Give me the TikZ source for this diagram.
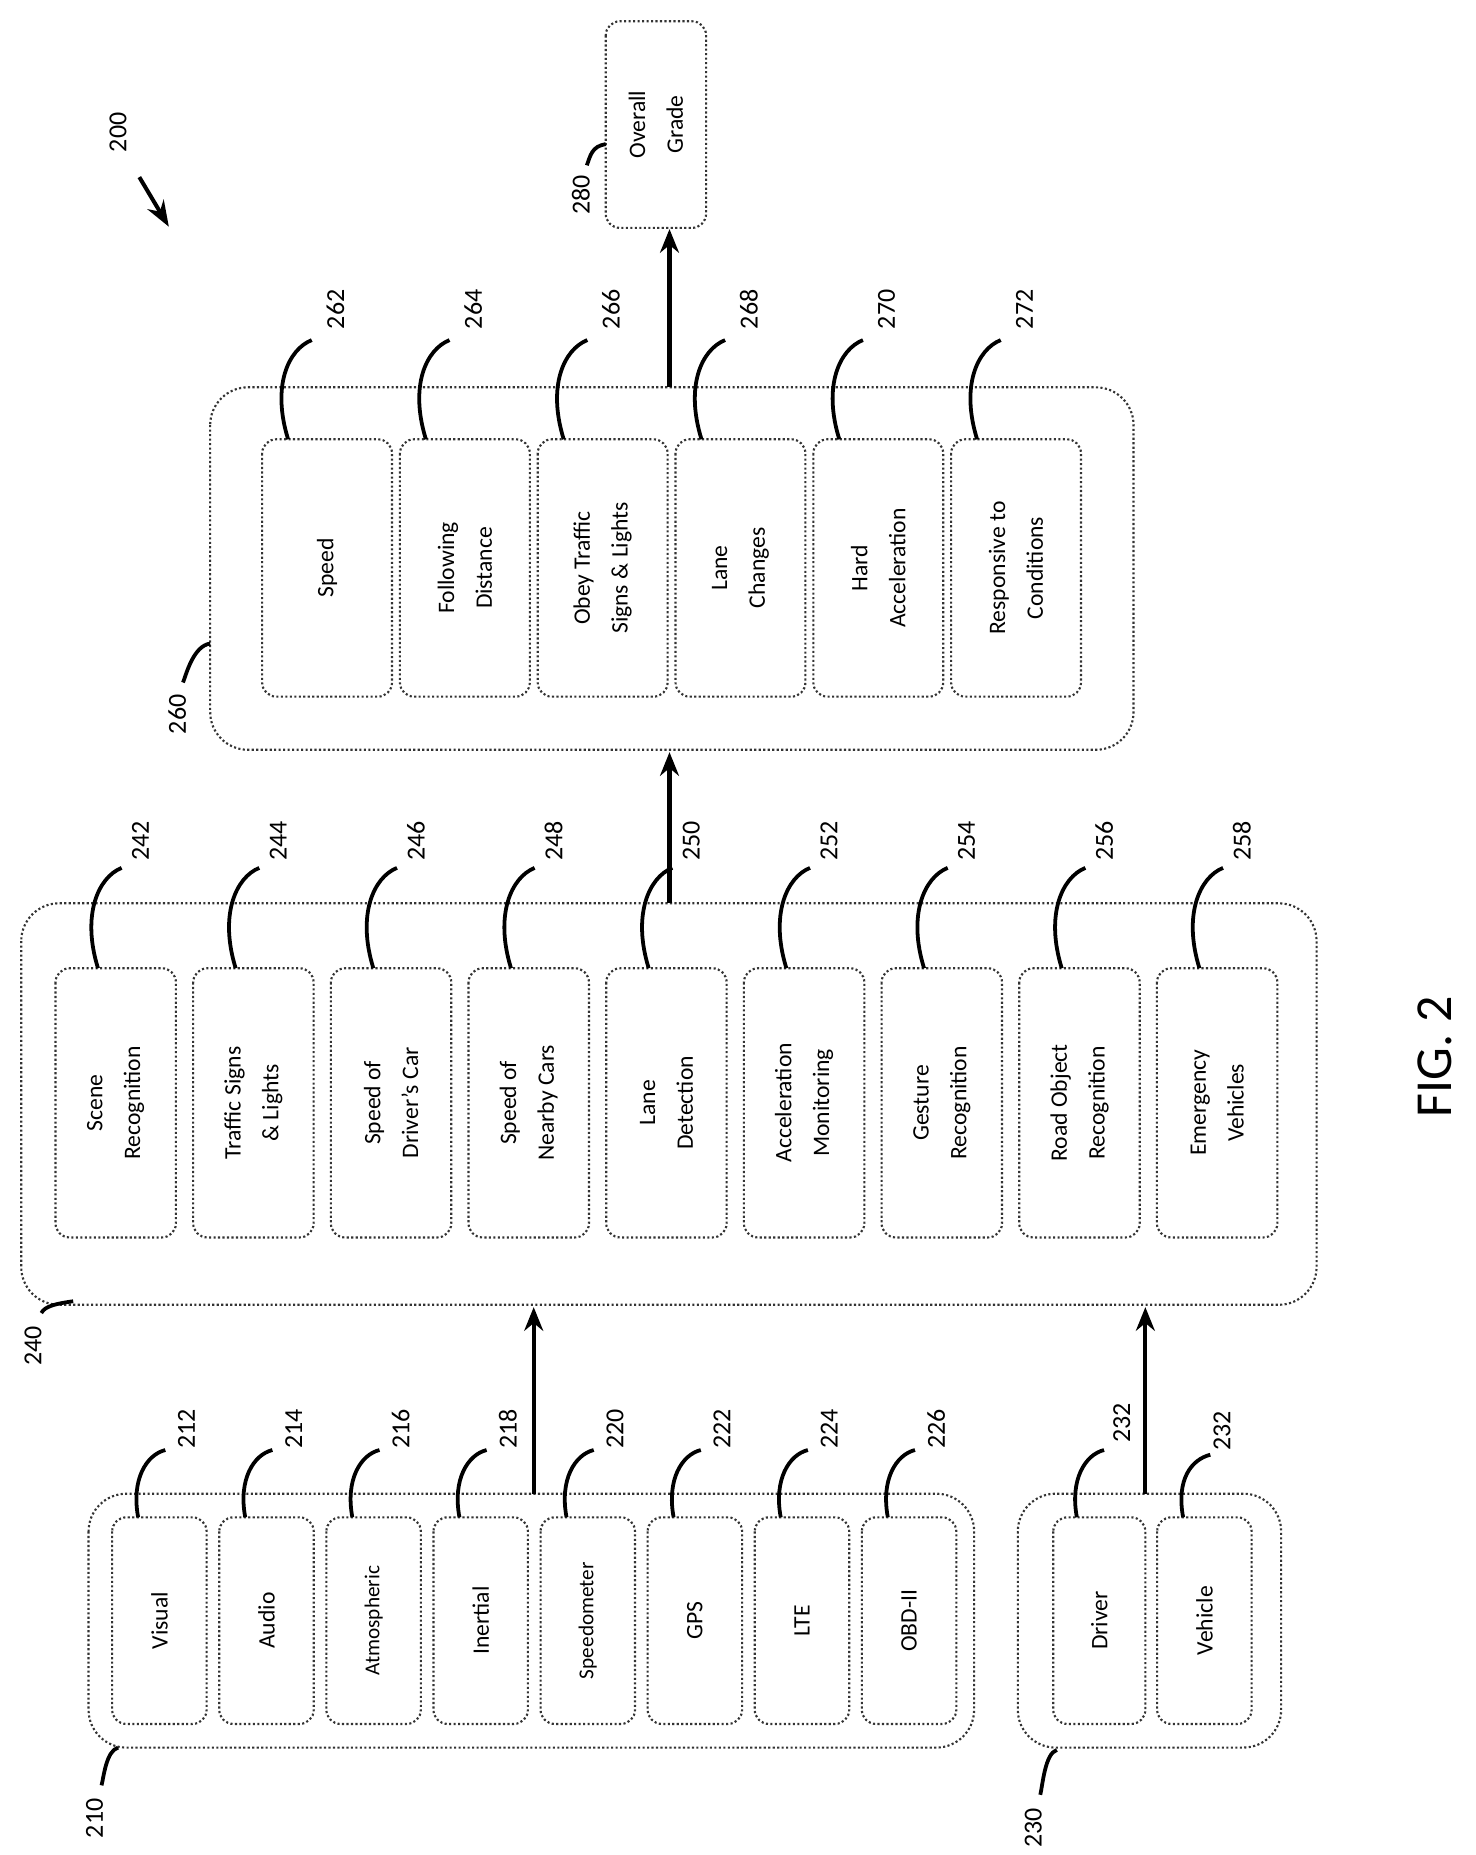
\documentclass[tikz,border=0pt]{standalone}
\usepackage{fontspec}
\setmainfont{Carlito}
\usetikzlibrary{arrows.meta}
\begin{document}
\begin{tikzpicture}[x=0.5pt,y=-0.5pt,
  ibox/.style={draw=black!80,densely dotted,line width=0.9pt,rounded corners=6pt,inner sep=1pt,align=center,font=\fontsize{10}{16}\selectfont,rotate=90},
  gbox/.style={draw=black!80,densely dotted,line width=0.9pt,rounded corners=16pt,inner sep=0pt,rotate=90},
  call/.style={line width=1.6pt,black},
  num/.style={font=\fontsize{11}{12}\selectfont,rotate=90,inner sep=1pt},
  arr/.style={line width=1.7pt,-{Stealth[length=10pt,width=8pt]}}]
\useasboundingbox (0,0) rectangle (1250,1571);
% group boxes
\node[gbox,minimum width=215*0.5pt,minimum height=750*0.5pt] (g210) at (450,1372.5) {};
\node[gbox,minimum width=215*0.5pt,minimum height=223*0.5pt] (g230) at (973.5,1372.5) {};
\node[gbox,minimum width=340*0.5pt,minimum height=1097*0.5pt] (g240) at (566.5,935) {};
\node[gbox,minimum width=307*0.5pt,minimum height=782*0.5pt] (g260) at (569,481.5) {};
\node[ibox,minimum width=175*0.5pt,minimum height=85*0.5pt] (b280) at (555.5,105.5) {Overall\\Grade};
% 210 row
\foreach \n/\t [count=\i from 0] in {212/Visual,214/Audio,216/{\small Atmospheric},218/Inertial,220/{\small Speedometer},222/GPS,224/LTE,226/OBD-II}{
  \pgfmathsetmacro\L{95+90.7*\i}
  \node[ibox,minimum width=175*0.5pt,minimum height=80*0.5pt] (b\n) at (\L+40,1372.5) {\t};
  \coordinate (s\n) at (\L+22,1285);
  \coordinate (e\n) at (\L+45,1228);
  \draw[call] (s\n) .. controls +(-6,-32) and +(-16,4) .. (e\n);
  \node[num] (n\n) at (\L+63,1210) {\n};
}
% 230 row
\node[ibox,minimum width=175*0.5pt,minimum height=78*0.5pt] (bdrv) at (931,1372.5) {Driver};
\node[ibox,minimum width=175*0.5pt,minimum height=80*0.5pt] (bveh) at (1020,1372.5) {Vehicle};
\coordinate (sdrv) at (912,1285); \coordinate (edrv) at (935,1228);
\coordinate (sveh) at (1002,1285); \coordinate (eveh) at (1025,1232);
\draw[call] (sdrv) .. controls +(-6,-32) and +(-16,4) .. (edrv);
\draw[call] (sveh) .. controls +(-6,-32) and +(-16,4) .. (eveh);
\node[num] (ndrv) at (950,1205) {232};
\node[num] (nveh) at (1035,1212) {232};
% 240 row
\foreach \n/\t [count=\i from 0] in {242/{Scene\\Recognition},244/{Traffic Signs\\\& Lights},246/{Speed of\\Driver's Car},248/{Speed of\\Nearby Cars},250/{Lane\\Detection},252/{Acceleration\\Monitoring},254/{Gesture\\Recognition},256/{Road Object\\Recognition},258/{Emergency\\Vehicles}}{
  \pgfmathsetmacro\L{47+116.6*\i}
  \node[ibox,minimum width=228*0.5pt,minimum height=102*0.5pt] (b\n) at (\L+51,934) {\t};
  \coordinate (s\n) at (\L+36,820);
  \coordinate (e\n) at (\L+56,735);
  \draw[call] (s\n) .. controls +(-14,-45) and +(-20,8) .. (e\n);
  \node[num] (n\n) at (\L+72,712) {\n};
}
% 260 row
\foreach \n/\t [count=\i from 0] in {262/Speed,264/{Following\\Distance},266/{Obey Traffic\\Signs \& Lights},268/{Lane\\Changes},270/{Hard\\Acceleration},272/{Responsive to\\Conditions}}{
  \pgfmathsetmacro\L{222+116.7*\i}
  \node[ibox,minimum width=218*0.5pt,minimum height=110*0.5pt] (b\n) at (\L+55,481) {\t};
  \coordinate (s\n) at (\L+22,372);
  \coordinate (e\n) at (\L+42,288);
  \draw[call] (s\n) .. controls +(-14,-45) and +(-20,8) .. (e\n);
  \node[num] (n\n) at (\L+62,262) {\n};
}
% group labels
\node[num] (n200) at (100,112) {200};
\coordinate (a200s) at (118,150); \coordinate (a200e) at (143,192);
\draw[line width=1.7pt,-{Stealth[length=11pt,width=8pt]}] (a200s) -- (a200e);
\node[num] (n280) at (492,165) {280};
\coordinate (c280) at (497,140);
\coordinate (d280) at (513,122);
\draw[call] (d280) .. controls +(-12,2) and +(3,-8) .. (c280);
\node[num] (n260) at (150,605) {260};
\coordinate (c260) at (155,578); \coordinate (d260) at (178,545);
\draw[call] (d260) .. controls +(-14,2) and +(3,-8) .. (c260);
\node[num] (n240) at (28,1140) {240};
\coordinate (c240) at (35,1112); \coordinate (d240) at (62,1102);
\draw[call] (d240) .. controls +(-14,2) and +(3,-6) .. (c240);
\node[num] (n210) at (80,1540) {210};
\coordinate (c210) at (86,1512); \coordinate (d210) at (100,1480);
\draw[call] (d210) .. controls +(-10,3) and +(2,-8) .. (c210);
\node[num] (n230) at (875,1548) {230};
\coordinate (c230) at (881,1520); \coordinate (d230) at (895,1482);
\draw[call] (d230) .. controls +(-10,3) and +(2,-8) .. (c230);
% arrows
\draw[arr] (452,1265) -- (452,1107);
\draw[arr] (970,1265) -- (970,1107);
\draw[arr] (567,765) -- (567,637);
\draw[arr] (567,328) -- (567,194);
\node[font=\fontsize{22}{24}\selectfont,rotate=90] (fig) at (1215,895) {FIG. 2};
\end{tikzpicture}
\end{document}
